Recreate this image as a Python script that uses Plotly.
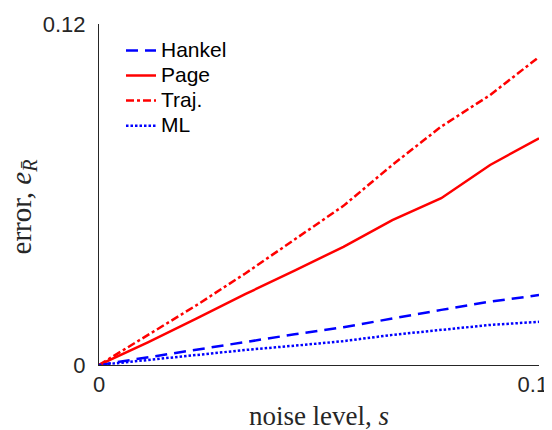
import plotly.graph_objects as go

noise = [0, 0.1/9, 0.2/9, 0.3/9, 0.4/9, 0.5/9, 0.6/9, 0.7/9, 0.8/9, 0.1]
hankel = [0, 0.0027, 0.0053, 0.0082, 0.0108, 0.0133, 0.0164, 0.0194, 0.0223, 0.0246]
page = [0, 0.0080, 0.0164, 0.0250, 0.0332, 0.0416, 0.0510, 0.0587, 0.0704, 0.0798]
traj = [0, 0.0105, 0.0211, 0.0323, 0.0442, 0.0560, 0.0704, 0.0839, 0.0950, 0.1084]
ml = [0, 0.0018, 0.0035, 0.0053, 0.0068, 0.0084, 0.0106, 0.0123, 0.0141, 0.0152]

x_ticks = [0, 0.1]
x_ticklabels = ["0", "0.1\u00a0\u00a0"]
y_ticks = [0, 0.12]
y_ticklabels = ["0", "0.12"]

fig = go.Figure()
series = [
    ("Hankel", hankel, "#0000FF", "12px,7px"),
    ("Page", page, "#FF0000", "solid"),
    ("Traj.", traj, "#FF0000", "8px,3px,3px,3px"),
    ("ML", ml, "#0000FF", "2.5px,2px"),
]
for name, ys, col, dash in series:
    fig.add_trace(go.Scatter(x=noise, y=ys, mode="lines",
                             name='<span style="font-size:21px">%s</span>' % name,
                             line=dict(color=col, dash=dash, width=2.5)))

axis_common = dict(showgrid=False, zeroline=False, showline=True, linecolor="#262626",
                   linewidth=1, ticks="inside", ticklen=5, tickcolor="#262626",
                   automargin=False, ticklabeloverflow="allow",
                   tickfont=dict(family="Liberation Sans, Arial", size=22, color="#262626"))
fig.update_xaxes(range=[0, 0.1], tickvals=x_ticks, ticktext=x_ticklabels,
                 ticklabelstandoff=0,
                 title=dict(text="noise level, <i>s</i>",
                            font=dict(family="Liberation Serif, DejaVu Serif", size=27, color="#262626"),
                            standoff=9),
                 **axis_common)
fig.update_yaxes(range=[0, 0.12], tickvals=y_ticks, ticktext=y_ticklabels,
                 ticklabelstandoff=8,
                 **axis_common)
fig.add_annotation(text="error, <i>e</i><sub><i>R̄</i></sub>", textangle=-90,
                   xref="paper", yref="paper", x=-0.172, y=0.466,
                   xanchor="center", yanchor="middle", showarrow=False,
                   font=dict(family="Liberation Serif, DejaVu Serif", size=29, color="#262626"))
fig.update_layout(
    width=552, height=430,
    margin=dict(l=91, r=21, t=16, b=73),
    plot_bgcolor="white", paper_bgcolor="white",
    showlegend=True,
    legend=dict(x=0.05, y=0.974, xanchor="left", yanchor="top",
                bgcolor="rgba(0,0,0,0)", itemwidth=30, tracegroupgap=0,
                font=dict(family="Liberation Sans, Arial", size=17.0, color="black")),
)
fig.write_html("out.html")
